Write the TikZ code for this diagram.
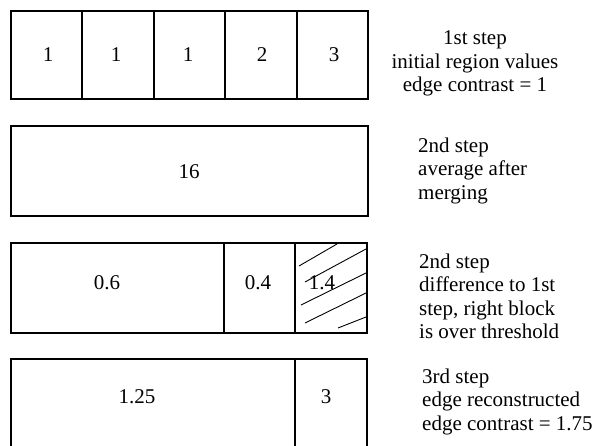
\documentclass[tikz,border=0pt]{standalone}
\usepackage{fontspec}
\setmainfont{Liberation Serif}
\begin{document}
\begin{tikzpicture}[x=1pt,y=-1pt,
  font=\fontsize{21}{23.4}\selectfont,
  box/.style={line width=1.6pt},
  divider/.style={line width=1.3pt},
  hatch/.style={line width=0.9pt},
  num/.style={inner sep=0pt, anchor=center},
  captionl/.style={inner sep=0pt, anchor=north west, align=left},
  captionc/.style={inner sep=0pt, anchor=north, align=center}]
\useasboundingbox (0,0) rectangle (597,446);

% row 1
\draw[box] (11,11) rectangle (368,99);
\foreach \x in {82,154,225,297} \draw[divider] (\x,11) -- (\x,99);
\node[num] (a1) at (48,55) {1};
\node[num] (a2) at (116,55) {1};
\node[num] (a3) at (188,55) {1};
\node[num] (a4) at (262,55) {2};
\node[num] (a5) at (334,55) {3};
\node[captionc] (t1) at (475,30.7) {1st step\\initial region values\\edge contrast = 1};

% row 2
\draw[box] (11,126) rectangle (368,216);
\node[num] (b1) at (189,172) {16};
\node[captionl] (t2) at (418,137.7) {2nd step\\average after\\merging};

% row 3
\draw[box] (11,243) rectangle (367,333);
\foreach \x in {224,295} \draw[divider] (\x,243) -- (\x,333);
\draw[hatch] (299,266) -- (337,244);
\draw[hatch] (305,282) -- (366,249);
\draw[hatch] (301,305) -- (366,273);
\draw[hatch] (305,323) -- (366,293);
\draw[hatch] (338,328) -- (366,317);
\node[num] (c1) at (107,283) {0.6};
\node[num] (c2) at (258,283) {0.4};
\node[num] (c3) at (322,283) {1.4};
\node[captionl] (t3) at (419,253.7) {2nd step\\difference to 1st\\step, right block\\is over threshold};

% row 4
\draw[box] (11,450) -- (11,359) -- (367,359) -- (367,450);
\draw[divider] (295,359) -- (295,450);
\node[num] (d1) at (137,397) {1.25};
\node[num] (d2) at (326,397) {3};
\node[captionl] (t4) at (422,368.7) {3rd step\\edge reconstructed\\edge contrast = 1.75};
\end{tikzpicture}
\end{document}
